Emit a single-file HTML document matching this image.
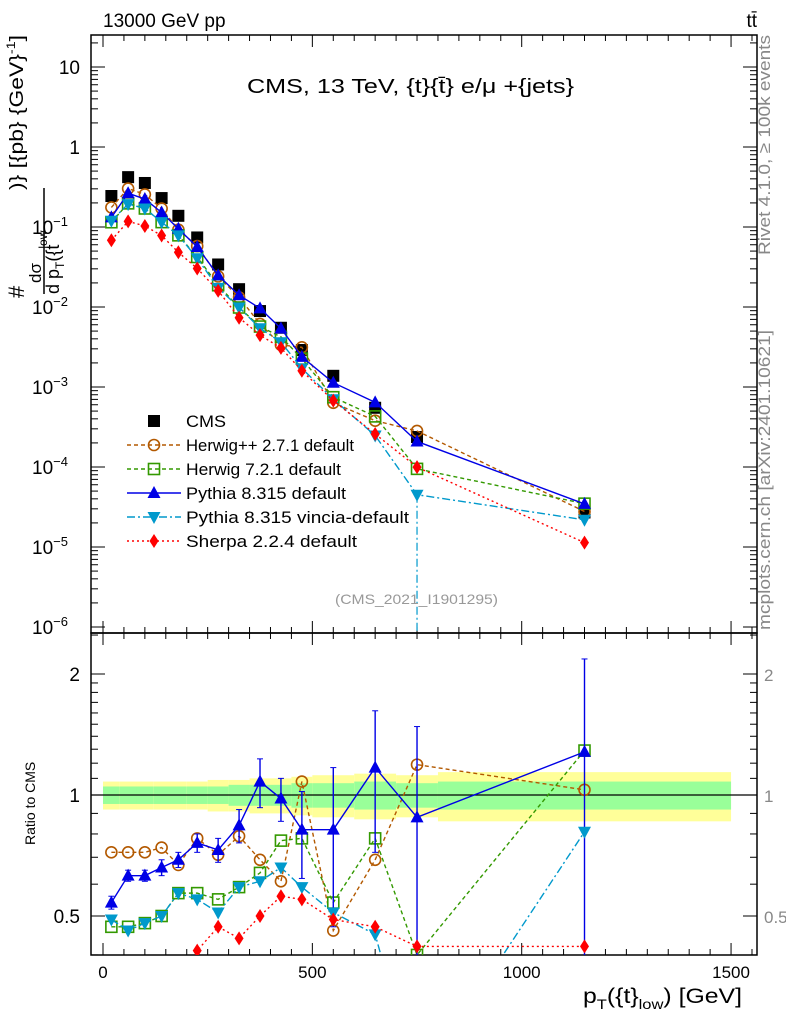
<!DOCTYPE html>
<html><head><meta charset="utf-8"><style>
html,body{margin:0;padding:0;background:#fff;width:786px;height:1024px;overflow:hidden;}
svg{display:block;font-family:"Liberation Sans",sans-serif;}
</style></head><body>
<svg id="chart" width="786" height="1024" viewBox="0 0 786 1024" xmlns="http://www.w3.org/2000/svg">
<g id="bands"></g>
<g id="axes"></g>
<g id="marks"></g>
<text x="103" y="27" font-size="19">13000 GeV pp</text>
<text x="757" y="27" font-size="19" text-anchor="end">tt̄</text>
<text x="247" y="93" font-size="20" textLength="327" lengthAdjust="spacingAndGlyphs">CMS, 13 TeV, {t}{t̄} e/μ +{jets}</text>
<text x="335" y="604" font-size="14" fill="#999" textLength="163" lengthAdjust="spacingAndGlyphs">(CMS_2021_I1901295)</text>
<text transform="translate(770,255) rotate(-90)" font-size="17" fill="#888" textLength="220" lengthAdjust="spacingAndGlyphs">Rivet 4.1.0, ≥ 100k events</text>
<text transform="translate(770,630) rotate(-90)" font-size="17" fill="#888" textLength="300" lengthAdjust="spacingAndGlyphs">mcplots.cern.ch [arXiv:2401.10621]</text>
<g transform="rotate(-90)">
<text x="-298" y="24" font-size="22">#</text>
<text x="-283" y="41" font-size="17">dσ</text>
<line x1="-294" y1="44" x2="-188" y2="44" stroke="#000" stroke-width="1.5"/>
<text x="-294" y="59" font-size="18">d p<tspan font-size="12" dy="5">T</tspan><tspan dy="-5">({t</tspan><tspan font-size="12" dx="-4" dy="-12">low</tspan></text>
<text x="-190" y="23" font-size="19" textLength="155" lengthAdjust="spacingAndGlyphs">)} [{pb} {GeV}<tspan font-size="12" dy="-8">-1</tspan><tspan dy="8">]</tspan></text>
</g>
<text transform="translate(35,845) rotate(-90)" font-size="14">Ratio to CMS</text>
<text x="583" y="1003" font-size="21" textLength="159" lengthAdjust="spacingAndGlyphs">p<tspan font-size="14" dy="6">T</tspan><tspan dy="-6">({t}</tspan><tspan font-size="14" dy="6">low</tspan><tspan dy="-6">) [GeV]</tspan></text>
<g id="legend"></g>
</svg>
<script>
const xBins = [20,60,100,140,180,225,275,325,375,425,475,550,650,750,1150];
const cmsValues = [0.244,0.42,0.355,0.23,0.138,0.074,0.034,0.0167,0.0089,0.0055,0.0029,0.00138,0.00055,0.000237,0.000027];
const herwigppRatio = [0.72,0.72,0.72,0.74,0.67,0.78,0.71,0.79,0.69,0.61,1.08,0.46,0.69,1.19,1.03];
const herwig7Ratio = [0.47,0.47,0.48,0.50,0.57,0.57,0.55,0.59,0.64,0.77,0.78,0.54,0.78,0.40,1.29];
const pythiaRatio = [0.54,0.63,0.63,0.66,0.69,0.76,0.73,0.84,1.08,0.98,0.82,0.82,1.17,0.88,1.28];
const pythiaErr = [0.02,0.02,0.02,0.03,0.03,0.04,0.05,0.08,0.15,0.12,0.2,0.35,0.45,0.6,0.9];
const vinciaRatio = [0.49,0.46,0.48,0.50,0.57,0.55,0.51,0.59,0.61,0.66,0.59,0.51,0.45,0.19,0.81];
const sherpaRatio = [0.28,0.28,0.29,0.34,0.35,0.41,0.47,0.44,0.50,0.56,0.55,0.49,0.47,0.42,0.42];
const bandEdges = [0,40,80,120,160,200,250,300,350,400,450,500,600,700,800,1500];
const greenBand = [0.05,0.05,0.05,0.05,0.05,0.05,0.05,0.06,0.06,0.06,0.07,0.07,0.08,0.07,0.08];
const yellowBand = [0.08,0.08,0.08,0.08,0.08,0.08,0.09,0.09,0.1,0.1,0.11,0.12,0.13,0.12,0.14];
const xTicks = [0,500,1000,1500];

const NS="http://www.w3.org/2000/svg";
const L=91,R=757,T=35,MB=633,RB=955;
const xs=v=>103+v*0.4187;
const ys=v=>67-(Math.log10(v)-1)*80;
const yr=r=>795-121*Math.log2(r);
function mk(p,tag,at){const e=document.createElementNS(NS,tag);for(const k in at)e.setAttribute(k,at[k]);p.appendChild(e);return e;}
const svg=document.getElementById('chart');
const axes=document.getElementById('axes'),marks=document.getElementById('marks'),bands=document.getElementById('bands'),leg=document.getElementById('legend');

for(let i=0;i<greenBand.length;i++){
 const x1=xs(bandEdges[i]),x2=xs(bandEdges[i+1]);
 const y=mk(bands,'rect',{x:x1,y:yr(1+yellowBand[i]),width:x2-x1,height:yr(1-yellowBand[i])-yr(1+yellowBand[i]),fill:'#ffff99'});
 
 
 const g=mk(bands,'rect',{x:x1,y:yr(1+greenBand[i]),width:x2-x1,height:yr(1-greenBand[i])-yr(1+greenBand[i]),fill:'#99ff99'});
 
 
}
const f1=mk(axes,'rect',{x:L,y:T,width:R-L,height:MB-T,fill:'none',stroke:'#000','stroke-width':1.5});


const f2=mk(axes,'rect',{x:L,y:MB,width:R-L,height:RB-MB,fill:'none',stroke:'#000','stroke-width':1.5});


mk(axes,'line',{x1:L,x2:R,y1:yr(1),y2:yr(1),stroke:'#000','stroke-width':1.2});
for(let v=0;v<=1550;v+=50){const x=xs(v);if(x>R)break;const big=v%500===0;const h=big?12:6;
 for(const [y0,d] of [[MB,-1],[T,1],[RB,-1],[MB,1]])mk(axes,'line',{x1:x,x2:x,y1:y0,y2:y0+d*h,stroke:'#000'});}
xTicks.forEach(v=>{const t=mk(axes,'text',{x:xs(v),y:978,'font-size':17,'text-anchor':'middle'});t.textContent=v;
 
 });
for(let d=-6;d<=1;d++){for(let m=1;m<10;m++){const v=m*Math.pow(10,d);const y=ys(v);if(y<T||y>MB)continue;const h=m===1?14:7;
 mk(axes,'line',{x1:L,x2:L+h,y1:y,y2:y,stroke:'#000'});mk(axes,'line',{x1:R,x2:R-h,y1:y,y2:y,stroke:'#000'});}}
const yl=[[1,'10'],[0,'1'],[-1,'10','−1'],[-2,'10','−2'],[-3,'10','−3'],[-4,'10','−4'],[-5,'10','−5'],[-6,'10','−6']];
yl.forEach(a=>{const t=mk(axes,'text',{x:a[2]?68:80,y:ys(Math.pow(10,a[0]))+7,'font-size':19,'text-anchor':'end'});t.textContent=a[1];
 if(a[2]){const s=mk(t,'tspan',{dy:-8,'font-size':13});s.textContent=a[2];}
 
 });
[0.4,0.5,0.6,0.7,0.8,0.9,1,1.1,1.2,1.3,1.4,1.5,1.6,1.7,1.8,1.9,2,2.5].forEach(r=>{const y=yr(r);if(y<MB||y>RB)return;const h=(r===0.5||r===1||r===2)?14:7;
 mk(axes,'line',{x1:L,x2:L+h,y1:y,y2:y,stroke:'#000'});mk(axes,'line',{x1:R,x2:R-h,y1:y,y2:y,stroke:'#000'});});
[[2,'2'],[1,'1'],[0.5,'0.5']].forEach(a=>{const t=mk(axes,'text',{x:80,y:yr(a[0])+7,'font-size':19,'text-anchor':'end'});t.textContent=a[1];
 
 
 const t2=mk(axes,'text',{x:764,y:yr(a[0])+7,'font-size':17,fill:'#888'});t2.textContent=a[1];
 
 });

function marker(p,type,x,y,col){
 if(type==='sq')return mk(p,'rect',{x:x-6,y:y-6,width:12,height:12,fill:col});
 if(type==='osq')return mk(p,'rect',{x:x-5.5,y:y-5.5,width:11,height:11,fill:'none',stroke:col,'stroke-width':1.6});
 if(type==='oc')return mk(p,'circle',{cx:x,cy:y,r:5.5,fill:'none',stroke:col,'stroke-width':1.6});
 if(type==='up')return mk(p,'polygon',{points:`${x},${y-7} ${x-6.5},${y+5} ${x+6.5},${y+5}`,fill:col});
 if(type==='dn')return mk(p,'polygon',{points:`${x},${y+7} ${x-6.5},${y-5} ${x+6.5},${y-5}`,fill:col});
 return mk(p,'polygon',{points:`${x},${y-7} ${x-4.5},${y} ${x},${y+7} ${x+4.5},${y}`,fill:col});
}
const series=[
 {name:'Herwig++ 2.7.1 default',r:herwigppRatio,col:'#b35900',m:'oc',dash:'4,3'},
 {name:'Herwig 7.2.1 default',r:herwig7Ratio,col:'#339900',m:'osq',dash:'4,3'},
 {name:'Pythia 8.315 default',r:pythiaRatio,col:'#0000e6',m:'up',dash:''},
 {name:'Pythia 8.315 vincia-default',r:vinciaRatio,col:'#0099cc',m:'dn',dash:'8,3,2,3'},
 {name:'Sherpa 2.2.4 default',r:sherpaRatio,col:'#ff0000',m:'dm',dash:'2,3'}];
const defs=mk(svg,'defs',{});
const clip=mk(defs,'clipPath',{id:'cr'});mk(clip,'rect',{x:L,y:MB,width:R-L,height:RB-MB});
const clipm=mk(defs,'clipPath',{id:'cm'});mk(clipm,'rect',{x:L,y:T,width:R-L,height:MB-T});
const gm=mk(marks,'g',{'clip-path':'url(#cm)'}),gr=mk(marks,'g',{'clip-path':'url(#cr)'});
xBins.forEach((v,i)=>{const e=marker(gm,'sq',xs(v),ys(cmsValues[i]),'#000');
 
 });
series.forEach((s,si)=>{
 const ptsM=xBins.map((v,i)=>[xs(v),ys(cmsValues[i]*s.r[i])]);
 const ptsR=xBins.map((v,i)=>[xs(v),yr(s.r[i])]);
 const lm=mk(gm,'polyline',{points:ptsM.map(p=>p.join(',')).join(' '),fill:'none',stroke:s.col,'stroke-width':1.4,'stroke-dasharray':s.dash});
 
 
 const lr=mk(gr,'polyline',{points:ptsR.map(p=>p.join(',')).join(' '),fill:'none',stroke:s.col,'stroke-width':1.4,'stroke-dasharray':s.dash});
 
 
 if(si===2){xBins.forEach((v,i)=>{const x=xs(v);const lo=Math.max(0.05,s.r[i]-pythiaErr[i]);
   mk(gr,'line',{x1:x,x2:x,y1:yr(s.r[i]+pythiaErr[i]),y2:yr(lo),stroke:s.col,'stroke-width':1.4});
   mk(gr,'line',{x1:x-3,x2:x+3,y1:yr(s.r[i]+pythiaErr[i]),y2:yr(s.r[i]+pythiaErr[i]),stroke:s.col});
   mk(gr,'line',{x1:x-3,x2:x+3,y1:yr(lo),y2:yr(lo),stroke:s.col});});}
 if(si===3){const x=xs(xBins[13]);mk(gm,'line',{x1:x,x2:x,y1:ptsM[13][1],y2:MB,stroke:s.col,'stroke-width':1.2,'stroke-dasharray':s.dash});}
 ptsM.forEach(p=>{const e=marker(gm,s.m,p[0],p[1],s.col);
  
  });
 ptsR.forEach(p=>{const e=marker(gr,s.m,p[0],p[1],s.col);
  
  });
});
const lg=[{name:'CMS',col:'#000',m:'sq',dash:null}].concat(series);
const lens=[40,168,155,160,223,171];
lg.forEach((s,i)=>{const y=421+i*24;const g=mk(leg,'g',{});
 
 
 if(s.dash!==null)mk(g,'line',{x1:127,x2:181,y1:y,y2:y,stroke:s.col,'stroke-width':1.4,'stroke-dasharray':s.dash});
 marker(g,s.m,154,y,s.col);
 const t=mk(g,'text',{x:186,y:y+6,'font-size':17,textLength:lens[i],lengthAdjust:'spacingAndGlyphs'});t.textContent=s.name;});
</script>
</body></html>
